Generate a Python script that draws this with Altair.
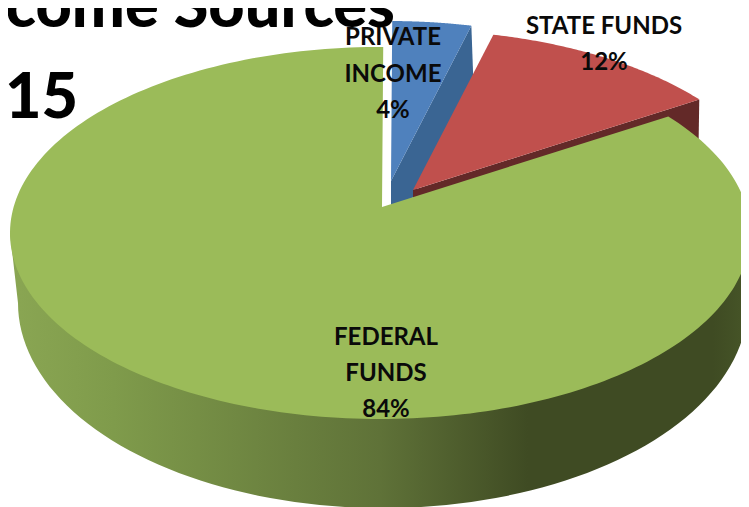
import math
import altair as alt
import pandas as pd

# Values
names = ["PRIVATE INCOME", "STATE FUNDS", "FEDERAL FUNDS"]
shares = [4, 12, 84]
top_colours = ["#4F81BD", "#C0504D", "#9BBB59"]
wall_colours = ["#3A6593", "#632928", None]
label_lines = [["PRIVATE", "INCOME", "4%"], ["STATE FUNDS", "12%"], ["FEDERAL", "FUNDS", "84%"]]
title_lines = ["come Sources", "015"]

# Drawing set-up of the tilted disc (page pixels)
CX, CY, RX, RY = 380, 233, 370, 186
BX, BY, BRX, BRY = 383, 303, 365, 205
AX, AY, ATH = 382, 207, 60
OFFSETS = [(9, -26), (31, -17), (0, 0)]
ROT, WARP = 0.5, 8.2
LABEL_ANCHORS = [(393, 38, 36.5), (604, 27, 36), (386, 338, 36)]
TITLE_ANCHORS = [(395, 27), (78, 118)]

xs = alt.Scale(domain=[8, 741], nice=False, zero=False)
ys = alt.Scale(domain=[507, 8], nice=False, zero=False)


def warp(t):
    return t - WARP * math.sin(math.radians(t)) + ROT


def pt(t, cx, cy, rx, ry, off):
    r = math.radians(t)
    return (cx + off[0] + rx * math.sin(r), cy + off[1] - ry * math.cos(r))


def sweep(t0, t1, cx, cy, rx, ry, off, n=90):
    return [pt(t0 + (t1 - t0) * i / n, cx, cy, rx, ry, off) for i in range(n + 1)]


def shape(points, fill):
    pts = list(points) + [points[0]]
    df = pd.DataFrame({"x": [p[0] for p in pts], "y": [p[1] for p in pts], "i": range(len(pts))})
    return alt.Chart(df).mark_line(fill=fill, stroke=None, strokeWidth=0, clip=True, interpolate="linear").encode(
        x=alt.X("x:Q", scale=xs, axis=None),
        y=alt.Y("y:Q", scale=ys, axis=None),
        order=alt.Order("i:Q"),
    )


# slice edges from the shares, clockwise from the top
edges = [0]
for s in shares:
    edges.append(edges[-1] + s * 3.6)

layers = []
for k in range(2):
    off = OFFSETS[k]
    t0, t1 = warp(edges[k]), warp(edges[k + 1])
    apex = (AX + off[0], AY + off[1])
    apex_low = (apex[0], apex[1] + ATH)
    p_top = pt(t1, CX, CY, RX, RY, off)
    p_bot = pt(t1, BX, BY, BRX, BRY, off)
    layers.append(shape([apex, p_top, p_bot, apex_low], wall_colours[k]))
    layers.append(shape([apex] + sweep(t0, t1, CX, CY, RX, RY, off), top_colours[k]))

wall_grad = alt.Gradient(
    gradient="linear", x1=0, x2=1, y1=0, y2=0,
    stops=[
        alt.GradientStop(offset=0, color="#8AA653"),
        alt.GradientStop(offset=0.14, color="#7F9B4B"),
        alt.GradientStop(offset=0.5, color="#5F7238"),
        alt.GradientStop(offset=0.7, color="#3F4B23"),
        alt.GradientStop(offset=0.95, color="#3F4B23"),
        alt.GradientStop(offset=1, color="#475628"),
    ],
)
wall = [pt(90, CX, CY, RX, RY, (0, 0))] + sweep(90, 270, BX, BY, BRX, BRY, (0, 0)) + [pt(270, CX, CY, RX, RY, (0, 0))]
layers.append(shape(wall, wall_grad))

apex = (AX, AY)
layers.append(shape([apex] + sweep(warp(edges[2]), warp(edges[3]), CX, CY, RX, RY, (0, 0), n=240), top_colours[2]))

rows = []
for lines, (x, y, step) in zip(label_lines, LABEL_ANCHORS):
    for j, line in enumerate(lines):
        rows.append({"x": x, "y": y + j * step, "t": line})
layers.append(
    alt.Chart(pd.DataFrame(rows)).mark_text(
        font="Lato", fontSize=24, fontWeight="bold", color="#0A0A0A", align="center", baseline="middle", clip=True
    ).encode(x=alt.X("x:Q", scale=xs, axis=None), y=alt.Y("y:Q", scale=ys, axis=None), text="t:N")
)
title_df = pd.DataFrame({"x": [a[0] for a in TITLE_ANCHORS], "y": [a[1] for a in TITLE_ANCHORS], "t": title_lines})
layers.append(
    alt.Chart(title_df).mark_text(
        font="Lato", fontSize=63, fontWeight=900, color="#000000", align="right", baseline="alphabetic", clip=True
    ).encode(x=alt.X("x:Q", scale=xs, axis=None), y=alt.Y("y:Q", scale=ys, axis=None), text="t:N")
)

chart = alt.layer(*layers).properties(
    width=733, height=499, padding=0, autosize=alt.AutoSizeParams(type="none")
).configure_view(stroke=None)

chart.save("out.html", embed_options={"renderer": "svg", "actions": False})
